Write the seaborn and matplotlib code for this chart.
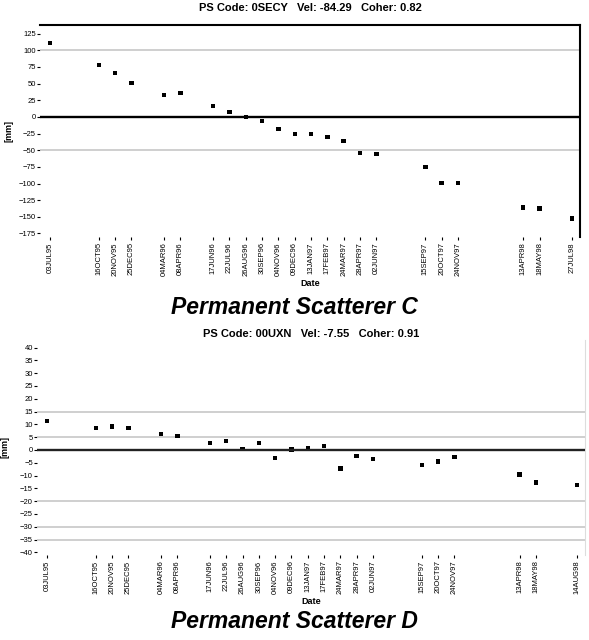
import numpy as np
import pandas as pd
import matplotlib
matplotlib.use('Agg')
import matplotlib.pyplot as plt
import matplotlib.dates as mdates
import seaborn as sns

# acquisition dates + displacement [mm]
dates_c = ['1995-07-03', '1995-10-16', '1995-11-20', '1995-12-25', '1996-03-04', '1996-04-08',
           '1996-06-17', '1996-07-22', '1996-08-26', '1996-09-30', '1996-11-04', '1996-12-09',
           '1997-01-13', '1997-02-17', '1997-03-24', '1997-04-28', '1997-06-02', '1997-09-15',
           '1997-10-20', '1997-11-24', '1998-04-13', '1998-05-18', '1998-07-27']
disp_c = [110.8, 77.8, 65.9, 50.9, 32.9, 35.9, 16.5, 7.5, 0.0, -6.0, -18.0, -25.4,
          -25.4, -29.9, -35.9, -53.9, -55.4, -74.9, -98.8, -98.8, -136.2, -137.7, -152.7]

dates_d = ['1995-07-03', '1995-10-16', '1995-11-20', '1995-12-25', '1996-03-04', '1996-04-08',
           '1996-06-17', '1996-07-22', '1996-08-26', '1996-09-30', '1996-11-04', '1996-12-09',
           '1997-01-13', '1997-02-17', '1997-03-24', '1997-04-28', '1997-06-02', '1997-09-15',
           '1997-10-20', '1997-11-24', '1998-04-13', '1998-05-18', '1998-08-14']
disp_d = [11.2, 8.5, 9.2, 8.5, 6.2, 5.4, 2.7, 3.5, 0.3, 2.7, -3.1, 0.2,
          0.8, 1.5, -7.3, -2.3, -3.5, -5.8, -4.6, -2.7, -9.6, -12.7, -13.8]

title_c = 'PS Code: 0SECY   Vel: -84.29   Coher: 0.82'
title_d = 'PS Code: 00UXN   Vel: -7.55   Coher: 0.91'
yticks_c = [125, 100, 75, 50, 25, 0, -25, -50, -75, -100, -125, -150, -175]
yticks_d = [40, 35, 30, 25, 20, 15, 10, 5, 0, -5, -10, -15, -20, -25, -30, -35, -40]
grey_c = [100, -50]
grey_d = [15, 5, -20, -30, -35]

sns.set_style('white')
plt.rcParams['font.family'] = ['Liberation Sans', 'DejaVu Sans']
plt.rcParams['text.color'] = 'black'
plt.rcParams['axes.labelcolor'] = 'black'
plt.rcParams['xtick.color'] = 'black'
plt.rcParams['ytick.color'] = 'black'

df_c = pd.DataFrame({'Date': pd.to_datetime(dates_c), 'disp': disp_c})
df_d = pd.DataFrame({'Date': pd.to_datetime(dates_d), 'disp': disp_d})

fig = plt.figure(figsize=(5.89, 6.4), dpi=100)
ax1 = fig.add_axes([0.068, 0.630, 0.917, 0.331])
ax2 = fig.add_axes([0.063, 0.133, 0.930, 0.336])


def draw(ax, df, title, yticks, greys, ylim, pad, zero_col):
    sns.scatterplot(data=df, x='Date', y='disp', ax=ax, marker='s', s=10,
                    color='black', edgecolor='none', zorder=2)
    for g in greys:
        ax.axhline(g, color='#cccccc', lw=1.3, zorder=1)
    ax.axhline(0, color=zero_col, lw=1.7, zorder=3)
    ax.set_ylim(*ylim)
    ax.set_yticks(yticks)
    ax.set_xticks(df['Date'])
    lbls = [d.strftime('%d%b%y').upper() for d in df['Date']]
    ax.set_xticklabels(lbls, rotation=90, fontsize=5.5)
    ax.tick_params(axis='y', labelsize=5.5, length=2, pad=1)
    ax.tick_params(axis='x', length=2, pad=2)
    ax.tick_params(which='both', direction='out', bottom=True, left=True)
    ax.set_xlim(df['Date'].iloc[0] - pd.Timedelta(days=21),
                df['Date'].iloc[-1] + pd.Timedelta(days=17))
    ax.set_title(title, fontsize=8, fontweight='bold', pad=pad)
    ax.set_xlabel('Date', fontsize=6.5, fontweight='bold', labelpad=2)
    ax.set_ylabel('[mm]', fontsize=6.5, fontweight='bold')
    ax.yaxis.set_label_coords(-0.05, 0.5)
    for s in ['left', 'bottom']:
        ax.spines[s].set_visible(False)


draw(ax1, df_c, title_c, yticks_c, grey_c, (-180, 138), 10, 'black')
ax1.spines['top'].set_color('black')
ax1.spines['top'].set_linewidth(1.5)
ax1.spines['right'].set_color('black')
ax1.spines['right'].set_linewidth(1.5)

draw(ax2, df_d, title_d, yticks_d, grey_d, (-41, 43), 2, '#222222')
ax2.spines['top'].set_visible(False)
ax2.spines['right'].set_color('#dddddd')

fig.text(0.5, 1 - 307 / 640, 'Permanent Scatterer C', ha='center', va='center',
         fontsize=16.5, fontweight='bold', style='italic')
fig.text(0.5, 1 - 621 / 640, 'Permanent Scatterer D', ha='center', va='center',
         fontsize=16.5, fontweight='bold', style='italic')

fig.savefig('out.png', dpi=100)
